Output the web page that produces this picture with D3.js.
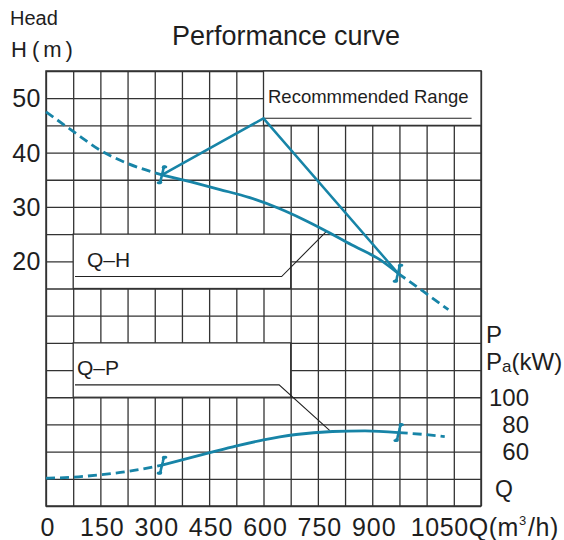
<!DOCTYPE html>
<html><head><meta charset="utf-8">
<script src="https://cdn.jsdelivr.net/npm/d3@7"></script>
<style>
body{margin:0;background:#fff;}
svg{display:block;}
text{font-family:"Liberation Sans",Arial,Helvetica,sans-serif;fill:#1e1e1e;}
</style>
</head><body>
<svg id="chart" width="564" height="540"></svg>
<script>
// ---- data ----
const qhQ = [0, 75, 150, 225, 320, 400, 480, 562, 640, 710, 775, 850, 921, 971, 1040, 1110];
const qhH = [47.5, 43.9, 40.4, 38.0, 35.9, 34.6, 33.2, 31.7, 29.8, 27.7, 25.5, 22.8, 20.3, 17.8, 14.5, 11.1];
const qpQ = [0, 75, 150, 225, 320, 452, 526, 600, 645, 690, 790, 880, 973, 1040, 1100];
const qpP = [40.5, 41.2, 43.0, 45.4, 50.0, 59.2, 64.2, 68.6, 70.8, 72.6, 74.8, 75.3, 74.0, 72.7, 71.0];
const rangeQ = [320, 600, 971];
const rangeH = [35.9, 46.3, 17.8];
const xTickValues = [0, 150, 300, 450, 600, 750, 900, 1050];
const xTickLabels = ["0", "150", "300", "450", "600", "750", "900", "1050"];
const hTickValues = [50, 40, 30, 20];
const pTickValues = [100, 80, 60];
const title = "Performance curve";
const rangeLabel = "Recommmended Range";

const svg = d3.select("#chart");
const x = d3.scaleLinear().domain([0, 1200]).range([46, 481]);
const yH = d3.scaleLinear().domain([-25, 55]).range([506, 71]);
const yP = d3.scaleLinear().domain([20, 340]).range([506, 71]);

const teal = "#1784a7";
const gridCol = "#333";

// grid via axes
const gx = svg.append("g").attr("transform", `translate(0,${yH(-25)})`)
  .call(d3.axisBottom(x).tickValues(d3.range(0, 1201, 75)).tickSize(-(yH(-25) - yH(55))).tickFormat(""));
const gy = svg.append("g").attr("transform", `translate(${x(0)},0)`)
  .call(d3.axisLeft(yH).tickValues(d3.range(-25, 56, 5)).tickSize(-(x(1200) - x(0))).tickFormat(""));
[gx, gy].forEach(g => {
  g.select(".domain").remove();
  g.selectAll("line").attr("stroke", gridCol).attr("stroke-width", 1.3);
});
svg.append("rect").attr("x", x(0)).attr("y", yH(55)).attr("width", x(1200) - x(0)).attr("height", yH(-25) - yH(55))
  .attr("fill", "none").attr("stroke", gridCol).attr("stroke-width", 1.5);

// label boxes (white, covering grid)
function box(q0, q1, yTop, yBot) {
  svg.append("rect").attr("x", x(q0)).attr("y", yTop).attr("width", x(q1) - x(q0)).attr("height", yBot - yTop)
    .attr("fill", "#fff").attr("stroke", gridCol).attr("stroke-width", 1.3);
}
box(600, 1200, yH(55), yH(45));
box(75, 675, yH(25), yH(15));
box(75, 675, yP(140), yP(100));

// annotation lines
const ann = svg.append("g").attr("fill", "none").attr("stroke", "#222").attr("stroke-width", 1.1);
ann.append("path").attr("d", d3.line()([[x(600), yH(46.3)], [x(1174), yH(46.3)]]));
ann.append("path").attr("d", d3.line()([[x(80), yH(17.2)], [x(650), yH(17.2)], [x(775), yH(25.6)]]));
ann.append("path").attr("d", d3.line()([[x(80), yP(109.1)], [x(643), yP(109.1)], [x(783), yP(75.4)]]));

// curves
function segment(Q, V, yS, from, to) {
  const pts = [];
  Q.forEach((q, i) => { if (q >= from && q <= to) pts.push([x(q), yS(V[i])]); });
  return pts;
}
const line = d3.line().curve(d3.curveMonotoneX);
function drawCurve(Q, V, yS, b0, b1) {
  const g = svg.append("g").attr("fill", "none").attr("stroke", teal).attr("stroke-width", 2.8);
  g.append("path").attr("d", line(segment(Q, V, yS, 0, b0))).attr("stroke-dasharray", "9,5");
  g.append("path").attr("d", line(segment(Q, V, yS, b0, b1)));
  g.append("path").attr("d", line(segment(Q, V, yS, b1, 2000))).attr("stroke-dasharray", "9,5");
}
drawCurve(qhQ, qhH, yH, 320, 971);
drawCurve(qpQ, qpP, yP, 320, 973);

// recommended range polyline
svg.append("path").attr("d", d3.line()(rangeQ.map((q, i) => [x(q), yH(rangeH[i])])))
  .attr("fill", "none").attr("stroke", teal).attr("stroke-width", 2.5).attr("stroke-linejoin", "miter");

// break marks
function breakMark(px, py) {
  const g = svg.append("g");
  g.append("path")
    .attr("d", `M${px + 4},${py - 8} Q${px + 1.5},${py - 9} ${px + 1},${py - 4} L${px - 1},${py + 4} Q${px - 1.5},${py + 9} ${px - 4},${py + 8}`)
    .attr("fill", "none").attr("stroke", teal).attr("stroke-width", 2.6).attr("stroke-linecap", "round");
  g.append("circle").attr("cx", px + 1.8).attr("cy", py - 7.5).attr("r", 2).attr("fill", teal);
  g.append("circle").attr("cx", px - 1.8).attr("cy", py + 7.5).attr("r", 2).attr("fill", teal);
}
[4, 13].forEach(i => breakMark(x(qhQ[i]), yH(qhH[i])));
[4, 12].forEach(i => breakMark(x(qpQ[i]), yP(qpP[i])));

// texts
svg.append("text").attr("x", 286).attr("y", 45).attr("text-anchor", "middle").attr("font-size", 27).text(title);
svg.append("text").attr("x", 10).attr("y", 25).attr("font-size", 20).text("Head");
const hm = svg.append("text").attr("x", 11).attr("y", 57).attr("font-size", 22);
hm.append("tspan").text("H");
hm.append("tspan").attr("dx", 5).text("(");
hm.append("tspan").attr("dx", 4).text("m");
hm.append("tspan").attr("dx", 4).text(")");

svg.append("text").attr("x", 268).attr("y", 103).attr("font-size", 18.5).text(rangeLabel);
svg.append("text").attr("x", 87).attr("y", 267).attr("font-size", 21).text("Q\u2013H");
svg.append("text").attr("x", 77).attr("y", 375).attr("font-size", 21).text("Q\u2013P");

svg.append("g").selectAll("text").data(hTickValues).join("text")
  .attr("x", 41).attr("y", d => yH(d) + 9).attr("text-anchor", "end").attr("font-size", 25).attr("letter-spacing", 0.5).text(d => d);

svg.append("g").selectAll("text").data(pTickValues).join("text")
  .attr("x", 529).attr("y", d => yP(d) + 8.5).attr("text-anchor", "end").attr("font-size", 24).text(d => d);

svg.append("text").attr("x", 486).attr("y", 343).attr("font-size", 24).text("P");
const pa = svg.append("text").attr("x", 486).attr("y", 370).attr("font-size", 24);
pa.append("tspan").text("P");
pa.append("tspan").attr("font-size", 17).attr("dy", 2).text("a");
pa.append("tspan").attr("dy", -2).text("(kW)");
svg.append("text").attr("x", 495).attr("y", 497).attr("font-size", 23).text("Q");

svg.append("g").selectAll("text").data(xTickValues.slice(0, -1)).join("text")
  .attr("x", d => x(d) + 2).attr("y", 536).attr("text-anchor", "middle").attr("font-size", 25).attr("letter-spacing", 1)
  .text((d, i) => xTickLabels[i]);
const last = xTickValues.length - 1;
const ql = svg.append("text").attr("x", x(xTickValues[last]) - 16).attr("y", 536).attr("font-size", 25).attr("letter-spacing", 0.6);
ql.append("tspan").text(xTickLabels[last] + "Q(m");
ql.append("tspan").attr("font-size", 13).attr("dy", -11).text("3");
ql.append("tspan").attr("dy", 11).attr("dx", 1).text("/h)");
</script>
</body></html>
